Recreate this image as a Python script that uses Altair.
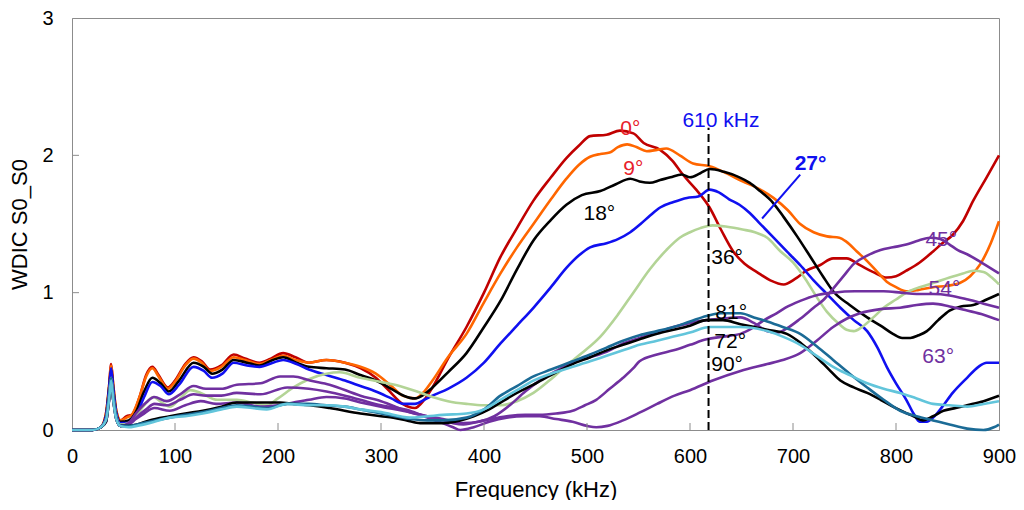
import altair as alt
import pandas as pd

# ---------------- data ----------------
LOW = [(0, 0), (20, 0.0), (28, 0.02)]

S0 = [(33, 0.12), (36, 0.32), (38, 0.48), (40, 0.33), (43, 0.14), (47, 0.07), (53, 0.10), (58, 0.11),
      (66, 0.25), (72, 0.40), (78, 0.46), (84, 0.40), (93, 0.31), (100, 0.36), (110, 0.48), (118, 0.53),
      (126, 0.50), (134, 0.44), (145, 0.47), (157, 0.55), (168, 0.52), (182, 0.49), (193, 0.52), (205, 0.56),
      (217, 0.53), (230, 0.49), (247, 0.51), (265, 0.49), (280, 0.45), (295, 0.38), (306, 0.30), (321, 0.19),
      (333, 0.16), (342, 0.22), (350, 0.31), (365, 0.52), (383, 0.75), (400, 1.0), (416, 1.26), (432, 1.47),
      (448, 1.67), (465, 1.84), (480, 1.98), (492, 2.07), (503, 2.14), (519, 2.15), (532, 2.18), (545, 2.16),
      (555, 2.09), (571, 2.04), (583, 1.96), (593, 1.86), (606, 1.75), (619, 1.62), (630, 1.46), (642, 1.30),
      (653, 1.21), (665, 1.15), (678, 1.09), (691, 1.06), (702, 1.10), (713, 1.16), (726, 1.20), (739, 1.25),
      (752, 1.25), (765, 1.20), (778, 1.15), (791, 1.11), (800, 1.12), (810, 1.16), (823, 1.22), (836, 1.30),
      (845, 1.36), (855, 1.42), (865, 1.52), (875, 1.67), (888, 1.84), (900, 2.0)]

S9 = [(33, 0.12), (36, 0.32), (38, 0.47), (40, 0.33), (43, 0.14), (47, 0.07), (53, 0.09), (58, 0.11),
      (66, 0.25), (72, 0.39), (78, 0.45), (84, 0.39), (93, 0.30), (100, 0.35), (110, 0.47), (118, 0.52),
      (126, 0.49), (134, 0.43), (145, 0.46), (157, 0.53), (168, 0.51), (182, 0.48), (193, 0.51), (205, 0.54),
      (217, 0.51), (230, 0.49), (247, 0.51), (265, 0.49), (280, 0.46), (295, 0.41), (310, 0.32), (321, 0.25),
      (333, 0.23), (342, 0.28), (350, 0.36), (365, 0.53), (383, 0.70), (400, 0.93), (416, 1.14), (432, 1.33),
      (448, 1.50), (465, 1.68), (480, 1.83), (492, 1.93), (503, 1.99), (513, 2.01), (522, 2.02), (530, 2.06),
      (539, 2.08), (548, 2.06), (558, 2.03), (568, 2.04), (577, 2.05), (590, 2.00), (603, 1.94), (619, 1.92),
      (635, 1.87), (651, 1.81), (666, 1.76), (681, 1.69), (695, 1.60), (707, 1.50), (720, 1.44), (733, 1.41),
      (745, 1.40), (752, 1.37), (762, 1.30), (772, 1.23), (782, 1.15), (791, 1.08), (800, 1.04), (810, 1.01),
      (822, 1.02), (836, 1.04), (850, 1.05), (862, 1.07), (872, 1.12), (882, 1.21), (892, 1.36), (900, 1.52)]

S18 = [(33, 0.10), (36, 0.30), (38, 0.44), (40, 0.30), (43, 0.12), (47, 0.06), (55, 0.07), (62, 0.13),
       (70, 0.28), (78, 0.38), (86, 0.34), (94, 0.28), (104, 0.36), (118, 0.49), (128, 0.46), (136, 0.41),
       (146, 0.44), (157, 0.51), (170, 0.49), (182, 0.47), (195, 0.51), (205, 0.53), (218, 0.49), (230, 0.46),
       (247, 0.45), (265, 0.44), (280, 0.40), (295, 0.36), (310, 0.30), (322, 0.25), (333, 0.23), (342, 0.26),
       (350, 0.31), (365, 0.42), (383, 0.56), (400, 0.75), (416, 0.94), (432, 1.17), (448, 1.38), (465, 1.53),
       (480, 1.64), (495, 1.71), (513, 1.74), (528, 1.79), (542, 1.83), (551, 1.81), (561, 1.80), (571, 1.82),
       (581, 1.84), (592, 1.86), (600, 1.84), (610, 1.87), (619, 1.90), (633, 1.88), (648, 1.84), (658, 1.80),
       (668, 1.74), (680, 1.66), (691, 1.55), (704, 1.41), (717, 1.26), (729, 1.12), (739, 1.01), (755, 0.91),
       (772, 0.82), (785, 0.76), (797, 0.70), (806, 0.67), (814, 0.67), (822, 0.69), (830, 0.72), (841, 0.80),
       (852, 0.87), (863, 0.90), (875, 0.91), (888, 0.95), (900, 0.99)]

S27 = [(33, 0.10), (36, 0.30), (38, 0.45), (40, 0.30), (43, 0.12), (47, 0.05), (55, 0.05), (62, 0.10),
       (70, 0.24), (78, 0.35), (86, 0.32), (94, 0.26), (104, 0.33), (118, 0.46), (128, 0.43), (136, 0.38),
       (146, 0.41), (157, 0.49), (170, 0.47), (182, 0.46), (195, 0.49), (205, 0.51), (218, 0.48), (230, 0.44),
       (247, 0.40), (265, 0.36), (280, 0.32), (295, 0.28), (310, 0.23), (322, 0.19), (333, 0.19), (342, 0.22),
       (350, 0.25), (365, 0.30), (383, 0.38), (400, 0.49), (416, 0.63), (432, 0.76), (448, 0.89), (465, 1.04),
       (480, 1.18), (492, 1.27), (503, 1.33), (519, 1.36), (530, 1.39), (542, 1.44), (552, 1.50), (561, 1.56),
       (571, 1.62), (584, 1.66), (597, 1.69), (608, 1.70), (619, 1.75), (628, 1.73), (638, 1.68), (648, 1.64),
       (658, 1.58), (667, 1.51), (680, 1.41), (694, 1.30), (707, 1.20), (720, 1.09), (733, 0.99), (746, 0.89),
       (759, 0.80), (772, 0.72), (782, 0.60), (791, 0.46), (800, 0.34), (810, 0.22), (817, 0.12), (823, 0.06),
       (830, 0.06), (836, 0.09), (845, 0.17), (855, 0.27), (869, 0.38), (880, 0.46), (888, 0.49), (900, 0.49)]

S36 = [(33, 0.08), (36, 0.25), (38, 0.38), (40, 0.25), (43, 0.10), (47, 0.04), (55, 0.05), (62, 0.10),
       (70, 0.18), (79, 0.24), (87, 0.20), (95, 0.17), (105, 0.23), (115, 0.29), (125, 0.27), (141, 0.22),
       (160, 0.22), (175, 0.20), (189, 0.18), (200, 0.23), (215, 0.31), (230, 0.37), (247, 0.41), (260, 0.42),
       (280, 0.38), (300, 0.35), (318, 0.32), (335, 0.28), (350, 0.24), (365, 0.21), (383, 0.19), (400, 0.18),
       (416, 0.18), (432, 0.21), (448, 0.27), (465, 0.37), (480, 0.47), (495, 0.56), (513, 0.68), (530, 0.84),
       (545, 1.00), (561, 1.17), (577, 1.31), (590, 1.40), (600, 1.44), (610, 1.47), (622, 1.49), (636, 1.48),
       (651, 1.46), (663, 1.44), (675, 1.40), (688, 1.30), (700, 1.22), (712, 1.10), (722, 0.98), (733, 0.86),
       (745, 0.77), (752, 0.73), (759, 0.72), (767, 0.75), (778, 0.82), (788, 0.89), (800, 0.95), (810, 1.00),
       (823, 1.04), (836, 1.07), (852, 1.11), (865, 1.14), (875, 1.16), (885, 1.15), (893, 1.11), (900, 1.06)]

S45 = [(33, 0.06), (36, 0.22), (38, 0.33), (40, 0.22), (43, 0.08), (47, 0.03), (55, 0.04), (62, 0.08),
       (70, 0.12), (80, 0.16), (95, 0.14), (110, 0.18), (125, 0.21), (140, 0.19), (160, 0.20), (183, 0.17),
       (200, 0.18), (215, 0.20), (230, 0.22), (247, 0.24), (265, 0.23), (280, 0.20), (300, 0.17), (328, 0.13),
       (345, 0.10), (360, 0.08), (380, 0.05), (395, 0.06), (410, 0.10), (425, 0.18), (440, 0.28), (454, 0.36),
       (470, 0.43), (486, 0.49), (503, 0.53), (519, 0.57), (535, 0.63), (551, 0.67), (568, 0.71), (584, 0.75),
       (600, 0.78), (616, 0.80), (630, 0.81), (649, 0.82), (662, 0.78), (675, 0.72), (685, 0.71), (694, 0.74),
       (707, 0.81), (720, 0.89), (730, 0.95), (739, 1.03), (749, 1.12), (759, 1.21), (772, 1.27), (785, 1.31),
       (797, 1.33), (810, 1.35), (822, 1.38), (833, 1.40), (843, 1.39), (852, 1.35), (860, 1.31), (869, 1.28),
       (885, 1.21), (900, 1.14)]

S54 = [(33, 0.07), (36, 0.25), (38, 0.37), (40, 0.25), (43, 0.09), (47, 0.03), (55, 0.05), (62, 0.12),
       (72, 0.20), (80, 0.24), (92, 0.21), (105, 0.26), (118, 0.32), (130, 0.30), (145, 0.30), (160, 0.33),
       (183, 0.34), (202, 0.39), (215, 0.39), (231, 0.36), (250, 0.33), (280, 0.25), (300, 0.21), (328, 0.13),
       (345, 0.10), (357, 0.08), (370, 0.05), (380, 0.04), (400, 0.07), (422, 0.10), (440, 0.11), (454, 0.11),
       (470, 0.12), (486, 0.14), (498, 0.18), (509, 0.22), (522, 0.30), (535, 0.38), (545, 0.45), (551, 0.50),
       (568, 0.55), (584, 0.58), (600, 0.62), (616, 0.66), (632, 0.68), (649, 0.70), (660, 0.74), (672, 0.80),
       (684, 0.85), (695, 0.90), (707, 0.94), (722, 0.98), (739, 1.00), (760, 1.01), (788, 1.01), (805, 1.00),
       (820, 0.99), (836, 0.99), (852, 0.98), (870, 0.95), (885, 0.92), (900, 0.89)]

S63 = [(33, 0.06), (36, 0.22), (38, 0.33), (40, 0.22), (43, 0.08), (47, 0.03), (55, 0.04), (62, 0.09),
       (72, 0.15), (80, 0.19), (92, 0.18), (105, 0.22), (118, 0.26), (130, 0.25), (145, 0.25), (160, 0.27),
       (183, 0.26), (209, 0.31), (230, 0.30), (247, 0.28), (265, 0.25), (280, 0.22), (300, 0.18), (328, 0.14),
       (345, 0.09), (360, 0.05), (370, 0.02), (377, 0.00), (390, 0.02), (405, 0.06), (422, 0.09), (440, 0.10),
       (454, 0.10), (470, 0.08), (486, 0.06), (500, 0.03), (509, 0.02), (520, 0.03), (535, 0.07), (552, 0.13),
       (568, 0.19), (585, 0.25), (600, 0.29), (622, 0.36), (649, 0.43), (675, 0.48), (690, 0.51), (707, 0.56),
       (723, 0.65), (739, 0.75), (752, 0.81), (765, 0.85), (785, 0.88), (804, 0.89), (820, 0.91), (836, 0.92),
       (852, 0.90), (869, 0.87), (885, 0.84), (900, 0.80)]

S72 = [(33, 0.06), (36, 0.22), (38, 0.35), (40, 0.22), (43, 0.08), (47, 0.03), (55, 0.03), (63, 0.04),
       (75, 0.07), (95, 0.10), (110, 0.12), (127, 0.14), (145, 0.17), (160, 0.20), (175, 0.20), (189, 0.20),
       (202, 0.20), (215, 0.19), (231, 0.18), (250, 0.16), (280, 0.12), (300, 0.10), (312, 0.09), (325, 0.07),
       (338, 0.05), (350, 0.05), (360, 0.05), (377, 0.07), (390, 0.10), (405, 0.15), (416, 0.20), (432, 0.27),
       (448, 0.33), (465, 0.40), (486, 0.48), (503, 0.53), (519, 0.58), (535, 0.62), (551, 0.66), (568, 0.70),
       (584, 0.73), (600, 0.76), (616, 0.80), (632, 0.80), (649, 0.77), (662, 0.75), (675, 0.73), (694, 0.70),
       (708, 0.63), (723, 0.53), (735, 0.44), (746, 0.36), (759, 0.31), (772, 0.27), (785, 0.22), (797, 0.17),
       (808, 0.13), (817, 0.10), (826, 0.07), (836, 0.10), (846, 0.14), (858, 0.16), (869, 0.18), (885, 0.21),
       (900, 0.25)]

S81 = [(33, 0.08), (36, 0.25), (38, 0.38), (40, 0.25), (43, 0.09), (47, 0.03), (55, 0.03), (63, 0.04),
       (75, 0.06), (95, 0.09), (110, 0.11), (127, 0.13), (145, 0.16), (160, 0.18), (175, 0.17), (189, 0.16),
       (209, 0.19), (230, 0.19), (247, 0.18), (265, 0.17), (280, 0.15), (300, 0.12), (328, 0.08), (345, 0.07),
       (360, 0.07), (383, 0.09), (400, 0.15), (416, 0.25), (432, 0.32), (448, 0.39), (465, 0.44), (486, 0.50),
       (503, 0.55), (519, 0.60), (535, 0.65), (551, 0.69), (568, 0.72), (584, 0.75), (600, 0.79), (616, 0.83),
       (630, 0.85), (649, 0.85), (662, 0.82), (675, 0.79), (690, 0.75), (707, 0.70), (723, 0.61), (739, 0.51),
       (755, 0.41), (772, 0.31), (788, 0.22), (804, 0.14), (820, 0.10), (836, 0.07), (852, 0.04), (869, 0.01),
       (885, 0.00), (895, 0.02), (900, 0.04)]

S90 = [(33, 0.07), (36, 0.22), (38, 0.36), (40, 0.22), (43, 0.08), (47, 0.03), (55, 0.02), (63, 0.03),
       (75, 0.05), (95, 0.09), (110, 0.10), (127, 0.12), (145, 0.15), (160, 0.17), (175, 0.16), (189, 0.15),
       (209, 0.19), (230, 0.18), (247, 0.18), (265, 0.17), (280, 0.15), (300, 0.13), (328, 0.09), (345, 0.10),
       (360, 0.11), (383, 0.12), (400, 0.15), (416, 0.22), (432, 0.29), (448, 0.36), (465, 0.41), (486, 0.46),
       (503, 0.50), (519, 0.54), (535, 0.58), (551, 0.62), (568, 0.65), (584, 0.68), (600, 0.71), (619, 0.75),
       (648, 0.75), (675, 0.72), (690, 0.68), (707, 0.62), (723, 0.54), (739, 0.46), (755, 0.40), (772, 0.34),
       (788, 0.30), (804, 0.27), (820, 0.23), (836, 0.19), (852, 0.18), (869, 0.17), (885, 0.19), (900, 0.21)]

SERIES = [("0°", "#C00000", S0), ("9°", "#FF6600", S9), ("18°", "#000000", S18),
          ("27°", "#1010F0", S27), ("36°", "#B3D496", S36), ("45°", "#7030A0", S45),
          ("54°", "#7030A0", S54), ("63°", "#7030A0", S63), ("72°", "#000000", S72),
          ("81°", "#1B6B96", S81), ("90°", "#62C5DB", S90)]

# annotation labels: text, freq, value, colour
LABEL_TEXT = ["0°", "9°", "18°", "36°", "81°", "72°", "90°", "45°", "54°", "63°", "610 kHz"]
LABEL_X = [542, 545, 512, 636, 640, 639, 636, 844, 847, 841, 630]
LABEL_Y = [2.19, 1.90, 1.57, 1.25, 0.85, 0.64, 0.47, 1.38, 1.03, 0.53, 2.25]
LABEL_C = ["#E8202A", "#E8202A", "#000000", "#000000", "#000000", "#000000", "#000000",
           "#7030A0", "#7030A0", "#7030A0", "#1010F0"]

MARKER_FREQ = 618
MARKER_TOP = 2.2
ARROW = {"x": [707], "y": [1.86], "x2": [670], "y2": [1.54]}
X_TICKS = [100, 200, 300, 400, 500, 600, 700, 800]
Y_TICKS = [1, 2]

FONT = "Liberation Sans"
W, H = 927, 412

xscale = alt.Scale(domain=[0, 900], nice=False)
yscale = alt.Scale(domain=[0, 3], nice=False)
xaxis = alt.Axis(values=[0, 100, 200, 300, 400, 500, 600, 700, 800, 900], title="Frequency (kHz)",
                 grid=False, ticks=False, labelFlush=False, labelPadding=16, titlePadding=13)
yaxis = alt.Axis(values=[0, 1, 2, 3], title="WDIC S0_S0", grid=False, ticks=False, labelFlush=False,
                 labelPadding=19, titlePadding=10)


def X(field):
    return alt.X(field, scale=xscale, axis=xaxis)


def Y(field):
    return alt.Y(field, scale=yscale, axis=yaxis)


layers = []
for name, col, pts in SERIES:
    allpts = LOW + pts
    df = pd.DataFrame({"f": [p[0] for p in allpts], "v": [p[1] for p in allpts], "s": name})
    layers.append(alt.Chart(df).mark_line(color=col, strokeWidth=2.6, interpolate="monotone")
                  .encode(x=X("f:Q"), y=Y("v:Q")))

marker_df = pd.DataFrame({"f": [MARKER_FREQ], "v0": [0], "v1": [MARKER_TOP]})
marker = alt.Chart(marker_df).mark_rule(color="black", strokeWidth=2, strokeDash=[8, 4]).encode(
    x=X("f:Q"), y=Y("v0:Q"), y2="v1:Q")

arrow = alt.Chart(pd.DataFrame(ARROW)).mark_rule(color="#1010F0", strokeWidth=2).encode(
    x=X("x:Q"), y=Y("y:Q"), x2="x2:Q", y2="y2:Q")

lab_df = pd.DataFrame({"t": LABEL_TEXT, "f": LABEL_X, "v": LABEL_Y, "c": LABEL_C})
labels = alt.Chart(lab_df).mark_text(font=FONT, fontSize=21, align="center", baseline="middle").encode(
    x=X("f:Q"), y=Y("v:Q"), text="t:N", color=alt.Color("c:N", scale=None))

lab27 = alt.Chart(pd.DataFrame({"t": ["27°"], "f": [717], "v": [1.94]})).mark_text(
    font=FONT, fontSize=21, fontWeight="bold", color="#1010F0", align="center", baseline="middle").encode(
    x=X("f:Q"), y=Y("v:Q"), text="t:N")

xt = alt.Chart(pd.DataFrame({"f": X_TICKS})).mark_rule(color="#8c8c8c", strokeWidth=1).encode(
    x=X("f:Q"), y=alt.value(H), y2=alt.value(H - 7))
yt = alt.Chart(pd.DataFrame({"v": Y_TICKS})).mark_rule(color="#8c8c8c", strokeWidth=1).encode(
    y=Y("v:Q"), x=alt.value(0), x2=alt.value(7))

chart = alt.layer(*layers, xt, yt, marker, arrow, labels, lab27).properties(
    width=W, height=H,
    autosize=alt.AutoSizeParams(type="none"),
    padding={"left": 64, "top": 10, "right": 17, "bottom": 70},
).configure_view(stroke="#8c8c8c", strokeWidth=1).configure_axis(
    labelFont=FONT, titleFont=FONT, labelFontSize=20, titleFontSize=22, titleFontWeight="normal",
    labelColor="black", titleColor="black", domainColor="#8c8c8c",
)

chart.save("out.html", embed_options={"renderer": "svg", "actions": False})
